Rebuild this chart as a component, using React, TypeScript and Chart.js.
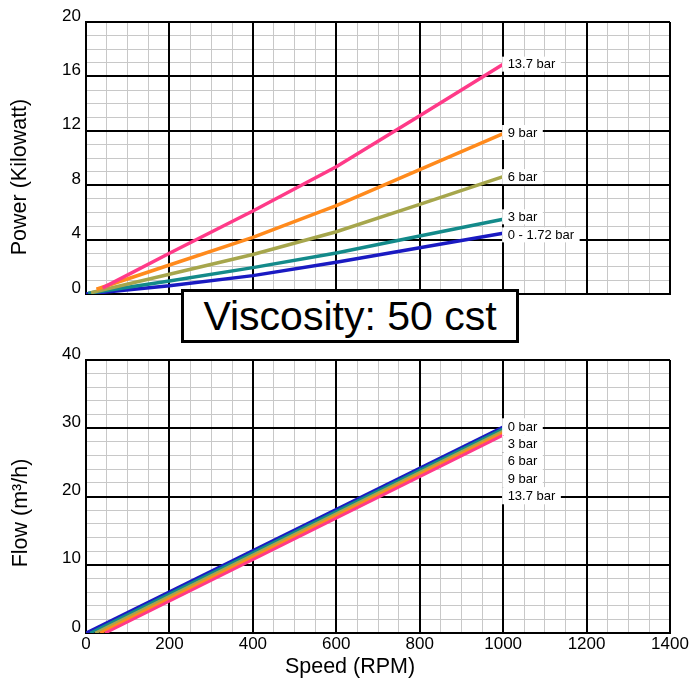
import React, { useEffect, useRef } from 'react';
import { Chart, registerables } from 'chart.js';

Chart.register(...registerables);

const FONT = '"Liberation Sans", Arial, Helvetica, sans-serif';

// ---- Axis ticks ----
const SPEED_TICKS = [0, 200, 400, 600, 800, 1000, 1200, 1400];
const SPEED_MINOR_STEP = 50;
const POWER_TICKS = [0, 4, 8, 12, 16, 20];
const POWER_MINOR_STEP = 1;
const FLOW_TICKS = [0, 10, 20, 30, 40];
const FLOW_MINOR_STEP = 2;

// ---- Texts ----
const TITLE_POWER = 'Power (Kilowatt)';
const TITLE_FLOW = 'Flow (m³/h)';
const TITLE_SPEED = 'Speed (RPM)';
const VISCOSITY_TEXT = 'Viscosity: 50 cst';

// ---- Power (kW) vs speed (RPM) ----
const POWER_NAMES = ['0 - 1.72 bar', '3 bar', '6 bar', '9 bar', '13.7 bar'];
const powerSpeed_0 = [0, 200, 400, 600, 800, 1000];
const power_0 = [0, 0.6, 1.35, 2.34, 3.4, 4.46];
const powerSpeed_3 = [5, 200, 400, 600, 800, 1000];
const power_3 = [0.05, 0.95, 1.94, 3.02, 4.26, 5.49];
const powerSpeed_6 = [12, 200, 400, 600, 800, 1000];
const power_6 = [0.1, 1.45, 2.9, 4.58, 6.59, 8.63];
const powerSpeed_9 = [25, 200, 400, 600, 800, 1000];
const power_9 = [0.35, 2.13, 4.17, 6.5, 9.15, 11.8];
const powerSpeed_137 = [40, 200, 400, 600, 800, 1000];
const power_137 = [0.45, 3.0, 6.1, 9.35, 13.1, 16.9];

// ---- Flow (m³/h) vs speed (RPM) ----
const FLOW_NAMES = ['0 bar', '3 bar', '6 bar', '9 bar', '13.7 bar'];
const flowSpeed_0 = [0, 1000];
const flow_0 = [0, 30.2];
const flowSpeed_3 = [10, 1000];
const flow_3 = [0, 29.9];
const flowSpeed_6 = [22, 1000];
const flow_6 = [0, 29.6];
const flowSpeed_9 = [34, 1000];
const flow_9 = [0, 29.3];
const flowSpeed_137 = [46, 1000];
const flow_137 = [0, 29.0];

const SERIES_COLORS = ['#1a1ac2', '#138a8a', '#a6a64c', '#ff8a1c', '#ff3a88'];
const MINOR_GRID = '#c8c8c8';
const MAJOR_GRID = '#000000';

function pts(xs: number[], ys: number[]) {
  return xs.map((x, i) => ({ x, y: ys[i] }));
}

function tickList(majors: number[], step: number) {
  const out: number[] = [];
  const max = majors[majors.length - 1];
  for (let v = majors[0]; v <= max + 1e-9; v += step) out.push(Math.round(v * 1000) / 1000);
  return out;
}

function isIn(majors: number[], v: number) {
  return majors.some((m) => Math.abs(m - v) < 1e-9);
}

// minor grid axis (carries labels and border)
function minorAxis(majors: number[], step: number, extra: any) {
  return {
    type: 'linear',
    min: majors[0],
    max: majors[majors.length - 1],
    afterBuildTicks: (s: any) => {
      s.ticks = tickList(majors, step).map((v) => ({ value: v }));
    },
    grid: {
      color: (c: any) => (c.tick && isIn(majors, c.tick.value) ? 'rgba(0,0,0,0)' : MINOR_GRID),
      lineWidth: 1,
      drawTicks: false,
      z: -2,
    },
    border: { display: true, color: '#000000', width: 2, z: 0 },
    ...extra,
  };
}

// major grid overlay axis (no size, no labels)
function majorAxis(majors: number[], position: string) {
  const horiz = position === 'bottom';
  return {
    type: 'linear',
    position,
    min: majors[0],
    max: majors[majors.length - 1],
    afterBuildTicks: (s: any) => {
      s.ticks = majors.map((v) => ({ value: v }));
    },
    afterFit: (s: any) => {
      if (horiz) s.height = 0;
      else s.width = 0;
    },
    ticks: { display: false },
    grid: { color: MAJOR_GRID, lineWidth: 2, drawTicks: false, z: -1 },
    border: { display: false },
  };
}

const endLabelsPlugin = {
  id: 'endLabels',
  afterDatasetsDraw(chart: any, _args: any, opts: any) {
    if (!opts || !opts.enabled) return;
    const ctx = chart.ctx;
    ctx.save();
    ctx.font = opts.font;
    ctx.textBaseline = 'middle';
    ctx.textAlign = 'left';
    const anchorMeta = chart.getDatasetMeta(0);
    const anchor = anchorMeta.data[anchorMeta.data.length - 1];
    chart.data.datasets.forEach((ds: any, i: number) => {
      const meta = chart.getDatasetMeta(i);
      const pt = meta.data[meta.data.length - 1];
      const x = pt.x;
      const y = opts.mode === 'stack' ? anchor.y + i * opts.gap : pt.y + (opts.dy ? opts.dy[i] : 0);
      const w = ctx.measureText(ds.label).width;
      ctx.fillStyle = '#ffffff';
      ctx.fillRect(x - 1, y - opts.boxH / 2, w + 11, opts.boxH);
      ctx.fillStyle = '#000000';
      ctx.fillText(ds.label, x + 4.5, y + 0.5);
    });
    ctx.restore();
  },
};

const titlesPlugin = {
  id: 'freeTitles',
  afterDraw(chart: any, _args: any, opts: any) {
    if (!opts || !opts.items) return;
    const ctx = chart.ctx;
    ctx.save();
    ctx.fillStyle = '#000000';
    ctx.textAlign = 'center';
    ctx.textBaseline = 'middle';
    opts.items.forEach((it: any) => {
      ctx.save();
      ctx.font = opts.font;
      ctx.translate(it.x, it.y);
      if (it.rotate) ctx.rotate(-Math.PI / 2);
      ctx.fillText(it.text, 0, 0);
      ctx.restore();
    });
    ctx.restore();
  },
};

function basePlugins() {
  return { legend: { display: false }, tooltip: { enabled: false } };
}

export default function App() {
  const topRef = useRef<HTMLCanvasElement>(null);
  const botRef = useRef<HTMLCanvasElement>(null);

  useEffect(() => {
    const tickFont = { family: FONT, size: 17 };

    const powerXs = [powerSpeed_0, powerSpeed_3, powerSpeed_6, powerSpeed_9, powerSpeed_137];
    const powerYs = [power_0, power_3, power_6, power_9, power_137];
    const top = new Chart(topRef.current as HTMLCanvasElement, {
      type: 'line',
      data: {
        datasets: POWER_NAMES.map((name, i) => ({
          label: name,
          data: pts(powerXs[i], powerYs[i]),
          borderColor: SERIES_COLORS[i],
          backgroundColor: SERIES_COLORS[i],
          borderWidth: 3.5,
          fill: false,
          order: 4 - i,
          xAxisID: 'x',
          yAxisID: 'y',
        })),
      },
      options: {
        responsive: false,
        animation: false,
        events: [],
        elements: { point: { radius: 0 }, line: { tension: 0, borderCapStyle: 'butt' } },
        layout: { padding: { left: 0, right: 21, top: 22, bottom: 16 } },
        scales: {
          x: minorAxis(SPEED_TICKS, SPEED_MINOR_STEP, {
            position: 'bottom',
            afterFit: (s: any) => {
              s.height = 0;
            },
            ticks: { display: false, autoSkip: false },
          }),
          y: minorAxis(POWER_TICKS, POWER_MINOR_STEP, {
            position: 'left',
            afterFit: (s: any) => {
              s.width = 86;
            },
            ticks: {
              autoSkip: false,
              font: tickFont,
              color: '#000000',
              padding: 5,
              labelOffset: -6,
              callback: (v: any) => (isIn(POWER_TICKS, Number(v)) ? String(v) : ''),
            },
          }),
          xMajor: majorAxis(SPEED_TICKS, 'bottom'),
          yMajor: majorAxis(POWER_TICKS, 'left'),
        },
        plugins: {
          ...basePlugins(),
          endLabels: {
            enabled: true,
            mode: 'point',
            dy: [1.5, -2.5, 0, -1, 0],
            font: `13px ${FONT}`,
            boxH: 15,
          },
          freeTitles: {
            font: `21.5px ${FONT}`,
            items: [{ text: TITLE_POWER, x: 20, y: 177, rotate: true }],
          },
        },
      } as any,
      plugins: [endLabelsPlugin, titlesPlugin],
    });

    const flowXs = [flowSpeed_0, flowSpeed_3, flowSpeed_6, flowSpeed_9, flowSpeed_137];
    const flowYs = [flow_0, flow_3, flow_6, flow_9, flow_137];
    const bot = new Chart(botRef.current as HTMLCanvasElement, {
      type: 'line',
      data: {
        datasets: FLOW_NAMES.map((name, i) => ({
          label: name,
          data: pts(flowXs[i], flowYs[i]),
          borderColor: SERIES_COLORS[i],
          backgroundColor: SERIES_COLORS[i],
          borderWidth: 3,
          fill: false,
          order: 4 - i,
          xAxisID: 'x',
          yAxisID: 'y',
        })),
      },
      options: {
        responsive: false,
        animation: false,
        events: [],
        elements: { point: { radius: 0 }, line: { tension: 0, borderCapStyle: 'butt' } },
        layout: { padding: { left: 0, right: 21, top: 30, bottom: 0 } },
        scales: {
          x: minorAxis(SPEED_TICKS, SPEED_MINOR_STEP, {
            position: 'bottom',
            afterFit: (s: any) => {
              s.height = 49;
            },
            ticks: {
              autoSkip: false,
              maxRotation: 0,
              minRotation: 0,
              font: tickFont,
              color: '#000000',
              padding: 1,
              callback: (v: any) => (isIn(SPEED_TICKS, Number(v)) ? String(v) : ''),
            },
          }),
          y: minorAxis(FLOW_TICKS, FLOW_MINOR_STEP, {
            position: 'left',
            afterFit: (s: any) => {
              s.width = 86;
            },
            ticks: {
              autoSkip: false,
              font: tickFont,
              color: '#000000',
              padding: 5,
              labelOffset: -6,
              callback: (v: any) => (isIn(FLOW_TICKS, Number(v)) ? String(v) : ''),
            },
          }),
          xMajor: majorAxis(SPEED_TICKS, 'bottom'),
          yMajor: majorAxis(FLOW_TICKS, 'left'),
        },
        plugins: {
          ...basePlugins(),
          endLabels: {
            enabled: true,
            mode: 'stack',
            gap: 17.2,
            font: `13px ${FONT}`,
            boxH: 17.2,
          },
          freeTitles: {
            font: `21.5px ${FONT}`,
            items: [
              { text: TITLE_FLOW, x: 21, y: 183, rotate: true },
              { text: TITLE_SPEED, x: 350, y: 337, rotate: false },
            ],
          },
        },
      } as any,
      plugins: [endLabelsPlugin, titlesPlugin],
    });

    return () => {
      top.destroy();
      bot.destroy();
    };
  }, []);

  return (
    <div style={{ position: 'absolute', left: 0, top: 0, width: 691, height: 682, background: '#ffffff' }}>
      <canvas ref={topRef} width={691} height={310} style={{ position: 'absolute', left: 0, top: 0 }} />
      <canvas ref={botRef} width={691} height={352} style={{ position: 'absolute', left: 0, top: 330 }} />
      <div
        style={{
          position: 'absolute',
          left: 181,
          top: 289,
          width: 338,
          height: 54,
          boxSizing: 'border-box',
          border: '3px solid #000000',
          background: '#ffffff',
          display: 'flex',
          alignItems: 'center',
          justifyContent: 'center',
          fontFamily: FONT,
          fontSize: 41,
          color: '#000000',
          lineHeight: 1,
        }}
      >
        {VISCOSITY_TEXT}
      </div>
    </div>
  );
}
